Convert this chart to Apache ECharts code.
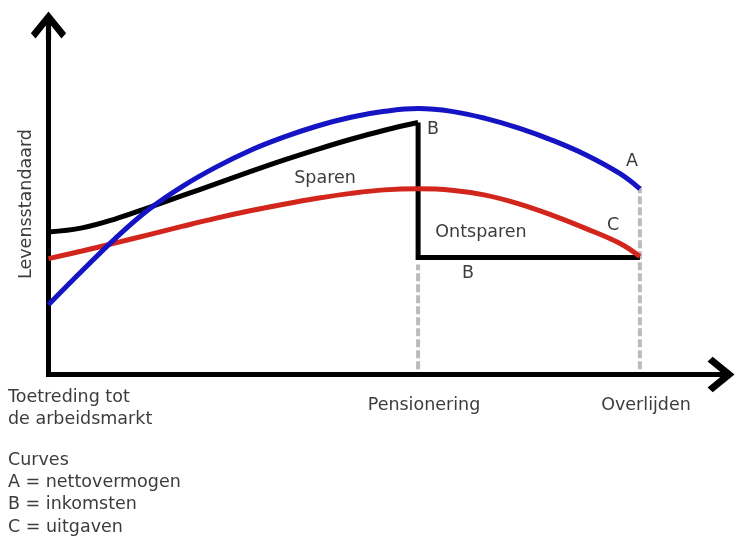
<!DOCTYPE html>
<html><head><meta charset="utf-8">
<script src="https://cdn.jsdelivr.net/npm/echarts@6/dist/echarts.min.js"></script>
<style>html,body{margin:0;padding:0;background:#fff}#c{width:736px;height:539px}</style>
</head><body><div id="c"></div>
<script>
// Conceptual life-cycle chart (x: life phase 0..100, y: level 0..100)
const eventValues = [0, 55, 88];
const eventLabels = ['Toetreding tot\nde arbeidsmarkt', 'Pensionering', 'Overlijden'];
const yAxisTitle = 'Levensstandaard';

const curveX = [0, 5, 10, 15, 20, 25, 30, 35, 40, 45, 50, 55, 60, 65, 70, 75, 80, 85, 88];
// A = nettovermogen (blue)
const blueY = [20.0, 29.7, 39.1, 47.4, 54.0, 59.5, 64.2, 68.0, 71.2, 73.7, 75.4, 76.2, 75.4, 73.4, 70.6, 67.1, 62.9, 57.6, 53.2];
// B = inkomsten (black), working life then pension
const blackX = [0, 5, 10, 15, 20, 25, 30, 35, 40, 45, 50, 55];
const blackY = [40.8, 42.0, 44.6, 47.9, 51.3, 54.7, 58.1, 61.4, 64.5, 67.4, 70.0, 72.2];
const pensionX = [55, 55, 88];
const pensionY = [72.2, 33.5, 33.5];
// C = uitgaven (red)
const redY = [33.2, 35.4, 37.7, 40.1, 42.5, 44.8, 46.9, 48.8, 50.5, 51.9, 52.9, 53.2, 52.8, 51.4, 48.9, 45.6, 41.8, 37.6, 33.8];
// dashed guide lines (x, yTop, yBottom)
const guideX = [55, 88];
const guideTop = [31.5, 54.0];
const guideBottom = [1.5, 1.5];

const legendLines = ['Curves', 'A = nettovermogen', 'B = inkomsten', 'C = uitgaven'];
const curveTags = ['B', 'A', 'C', 'B', 'Sparen', 'Ontsparen'];

const zip = (xs, ys) => xs.map((x, i) => [x, ys[i]]);
const arrow = 'path://M17,0 L34,21 L29.5,26 L19.5,13.6 L19.5,27 L14.5,27 L14.5,13.6 L4.5,26 L0,21 Z';
const FONT = 'DejaVu Sans';
const TXT = '#3c3c3c';

const guideSeries = guideX.map((x, i) => ({
  type: 'line', data: [[x, guideBottom[i]], [x, guideTop[i]]], symbol: 'none', z: 1,
  lineStyle: { color: '#bbbbbb', width: 4, type: [8, 3] }, silent: true
}));

const chart = echarts.init(document.getElementById('c'));
const txt = (text, x, y, extra) => ({
  type: 'text', style: Object.assign({ text, x, y, fill: TXT, font: '17.5px "' + FONT + '"', align: 'center', verticalAlign: 'middle' }, extra || {})
});

chart.setOption({
  animation: false,
  grid: { left: 48.5, right: 15.5, top: 25.5, bottom: 164.5 },
  xAxis: {
    type: 'value', min: 0, max: 100,
    axisLine: { onZero: false, symbol: ['none', arrow], symbolSize: [38, 28], lineStyle: { color: '#000', width: 5, cap: 'square' } },
    axisTick: { show: false }, axisLabel: { show: false }, splitLine: { show: false }
  },
  yAxis: {
    type: 'value', min: 0, max: 100,
    axisLine: { show: true, onZero: false, symbol: ['none', arrow], symbolSize: [36, 28], lineStyle: { color: '#000', width: 5, cap: 'square' } },
    axisTick: { show: false }, axisLabel: { show: false }, splitLine: { show: false }
  },
  series: guideSeries.concat([
    { name: 'inkomsten', type: 'line', data: zip(blackX, blackY), smooth: 0.4, symbol: 'none', z: 2, lineStyle: { color: '#000', width: 5 } },
    { name: 'inkomsten pensioen', type: 'line', data: zip(pensionX, pensionY), symbol: 'none', z: 2, lineStyle: { color: '#000', width: 5, join: 'miter' } },
    { name: 'uitgaven', type: 'line', data: zip(curveX, redY), smooth: 0.4, symbol: 'none', z: 3, lineStyle: { color: '#d2261c', width: 5 } },
    { name: 'nettovermogen', type: 'line', data: zip(curveX, blueY), smooth: 0.4, symbol: 'none', z: 4, lineStyle: { color: '#1414c4', width: 5 } }
  ]),
  graphic: [
    Object.assign(txt(yAxisTitle, 0, 0), { x: 26, y: 204, rotation: Math.PI / 2 }),
    txt(eventLabels[0], 8, 386, { align: 'left', verticalAlign: 'top', lineHeight: 22 }),
    txt(eventLabels[1], 424, 405),
    txt(eventLabels[2], 646, 405),
    txt(legendLines.join('\n'), 8, 449, { align: 'left', verticalAlign: 'top', lineHeight: 22.3 }),
    txt(curveTags[0], 433, 129),
    txt(curveTags[1], 632, 161),
    txt(curveTags[2], 613, 225),
    txt(curveTags[3], 468, 273),
    txt(curveTags[4], 325, 178),
    txt(curveTags[5], 481, 232)
  ]
});
</script></body></html>
